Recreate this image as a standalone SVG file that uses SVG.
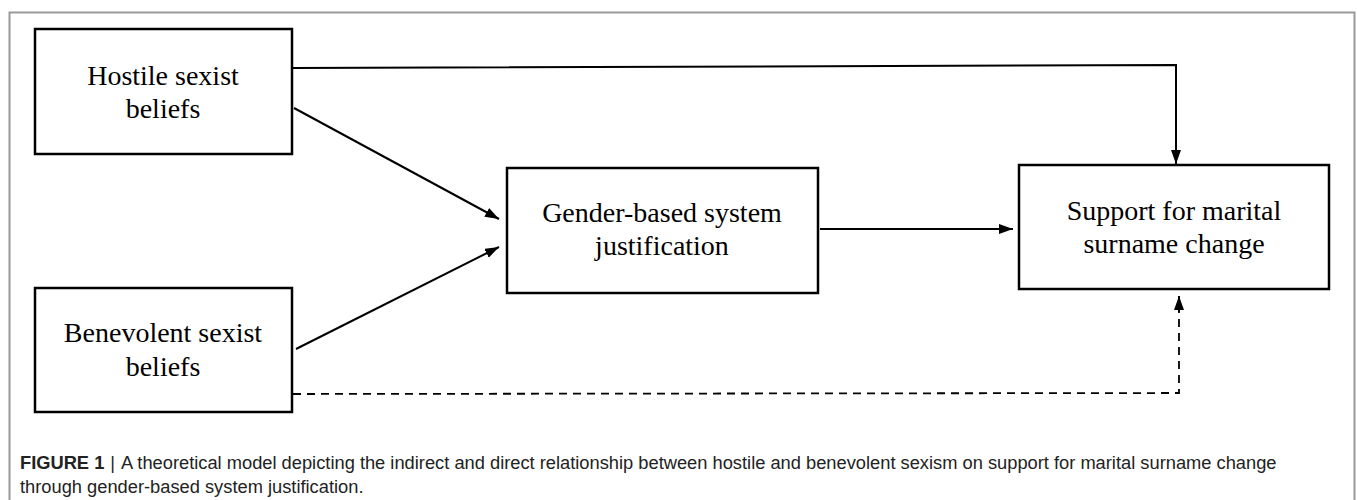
<svg xmlns="http://www.w3.org/2000/svg" width="1357" height="500" viewBox="0 0 1357 500">
<style>
.box{fill:#fff;stroke:#000;stroke-width:2.5}
.lbl{font-family:"Liberation Serif","Times New Roman",serif;font-size:28px;fill:#000;text-anchor:middle}
.ln{fill:none;stroke:#000;stroke-width:2}
.dash{fill:none;stroke:#000;stroke-width:1.8;stroke-dasharray:8,6}
.cap{font-family:"Liberation Sans",Arial,sans-serif;font-size:18.3px;fill:#222}
</style>
<defs>
<marker id="ah" viewBox="0 0 14 10" refX="14" refY="5" markerWidth="14" markerHeight="10" markerUnits="userSpaceOnUse" orient="auto">
<path d="M0,0 L14,5 L0,10 Z" fill="#000"/>
</marker>
</defs>
<rect x="9.5" y="12.5" width="1345" height="520" fill="#fff" stroke="#999" stroke-width="2"/>
<g id="connectors">
<polyline class="ln" points="293,68 1176,65 1176,164" marker-end="url(#ah)"/>
<line class="ln" x1="294" y1="108" x2="499" y2="219" marker-end="url(#ah)"/>
<line class="ln" x1="296" y1="349" x2="499" y2="247" marker-end="url(#ah)"/>
<line class="ln" x1="820" y1="229" x2="1013" y2="229" marker-end="url(#ah)"/>
<polyline class="dash" points="293,394 1179,393 1179,311"/>
<line class="ln" x1="1179" y1="312" x2="1179" y2="296" marker-end="url(#ah)"/>
</g>
<g id="hostile">
<rect class="box" x="35" y="29" width="257" height="125"/>
<text class="lbl" x="163" y="85">Hostile sexist</text>
<text class="lbl" x="163" y="118">beliefs</text>
</g>
<g id="benevolent">
<rect class="box" x="35" y="288" width="257" height="124"/>
<text class="lbl" x="163" y="342">Benevolent sexist</text>
<text class="lbl" x="163" y="376">beliefs</text>
</g>
<g id="gender">
<rect class="box" x="507" y="168" width="311" height="125"/>
<text class="lbl" x="662" y="222">Gender-based system</text>
<text class="lbl" x="662" y="255">justification</text>
</g>
<g id="support">
<rect class="box" x="1019" y="165" width="310" height="124"/>
<text class="lbl" x="1174" y="220">Support for marital</text>
<text class="lbl" x="1174" y="253">surname change</text>
</g>
<g id="caption">
<text class="cap" x="20" y="469"><tspan font-weight="bold">FIGURE 1</tspan><tspan dx="6">|</tspan><tspan dx="6">A theoretical model depicting the indirect and direct relationship between hostile and benevolent sexism on support for marital surname change</tspan></text>
<text class="cap" x="20" y="493">through gender-based system justification.</text>
</g>
</svg>
